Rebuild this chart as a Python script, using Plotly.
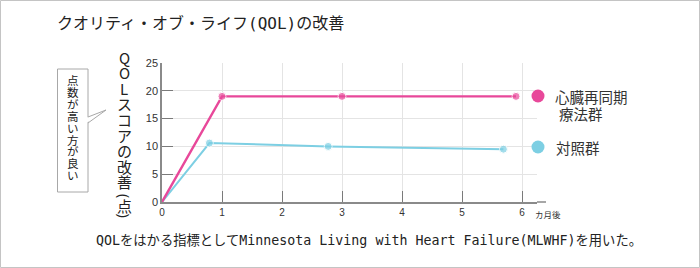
import plotly.graph_objects as go

# ---- data ----
title_text = "クオリティ・オブ・ライフ(QOL)の改善"
note_text = "QOLをはかる指標としてMinnesota Living with Heart Failure(MLWHF)を用いた。"
ytitle_chars = ["Q", "O", "L", "ス", "コ", "ア", "の", "改", "善"]
ytitle_unit = ["(", "点", ")"]
callout_chars = list("点数が高い方が良い")
series_names = ["心臓再同期", "療法群", "対照群"]

months_crt = [0, 1, 3, 5.9]
qol_crt = [0, 19.0, 19.0, 19.0]
months_ctrl = [0, 0.79, 2.77, 5.69]
qol_ctrl = [0, 10.6, 10.0, 9.5]

x_ticks = [0, 1, 2, 3, 4, 5, 6]
y_ticks = [0, 5, 10, 15, 20, 25]
x_unit = "カ月後"

MAGENTA = "#E8489A"
CYAN = "#7DCFE3"

W, H = 700, 268
L, R, T, B = 162, 163, 63, 66
PW, PH = W - L - R, H - T - B


def px(p):
    return (p - L) / PW


def py(p):
    return (H - B - p) / PH


CJK = "Noto Sans CJK JP"
MONO = "DejaVu Sans Mono, Noto Sans CJK JP"
NARROW = "Liberation Sans Narrow, Liberation Sans, Arial"

fig = go.Figure()


def msizes(n):
    return [0] + [8] * (n - 1)


fig.add_trace(go.Scatter(
    x=months_ctrl, y=qol_ctrl, mode="lines+markers",
    line=dict(color=CYAN, width=2),
    marker=dict(color=CYAN, size=msizes(len(qol_ctrl))),
    showlegend=False, hoverinfo="skip"))
fig.add_trace(go.Scatter(
    x=months_crt, y=qol_crt, mode="lines+markers",
    line=dict(color=MAGENTA, width=2.4),
    marker=dict(color=MAGENTA, size=msizes(len(qol_crt))),
    showlegend=False, hoverinfo="skip"))

fig.update_layout(
    width=W, height=H,
    margin=dict(l=L, r=R, t=T, b=B),
    paper_bgcolor="white", plot_bgcolor="white",
    xaxis=dict(range=[0, 6.25], tickvals=x_ticks, ticks="inside", ticklen=11,
               tickcolor="#7a7a7a", tickwidth=1.2,
               showgrid=True, gridcolor="#e4e4e4", gridwidth=1,
               showline=True, linecolor="#8a8a8a", linewidth=1.5,
               zeroline=False, fixedrange=True,
               tickfont=dict(family=NARROW, size=10, color="#333")),
    yaxis=dict(range=[0, 25], tickvals=y_ticks, ticks="inside", ticklen=11,
               tickcolor="#7a7a7a", tickwidth=1.2,
               showgrid=True, gridcolor="#e4e4e4", gridwidth=1,
               showline=True, linecolor="#8a8a8a", linewidth=1.5,
               zeroline=False, fixedrange=True,
               tickfont=dict(family=NARROW, size=11, color="#333")),
)

ann = []
# title
ann.append(dict(text=title_text, x=px(55), y=py(24), xref="paper", yref="paper",
                xanchor="left", yanchor="middle", showarrow=False,
                font=dict(family=MONO, size=16, color="#222")))
# note
ann.append(dict(text=note_text, x=px(94), y=py(240), xref="paper", yref="paper",
                xanchor="left", yanchor="middle", showarrow=False,
                font=dict(family=MONO, size=13.3, color="#222")))
# x unit
ann.append(dict(text=x_unit, x=px(533), y=py(214), xref="paper", yref="paper",
                xanchor="left", yanchor="middle", showarrow=False,
                font=dict(family=CJK, size=8.5, color="#333")))
# vertical y title
for i, ch in enumerate(ytitle_chars):
    ann.append(dict(text=ch, x=px(124), y=py(57 + i * 15.6), xref="paper", yref="paper",
                    xanchor="center", yanchor="middle", showarrow=False,
                    font=dict(family=CJK, size=15, color="#222")))
for ch, yy in zip(ytitle_unit, (195.5, 205.5, 215)):
    is_paren = ch in "()"
    ann.append(dict(text=ch, x=px(124.5), y=py(yy), xref="paper", yref="paper",
                    xanchor="center", yanchor="middle", showarrow=False,
                    textangle=90 if is_paren else 0,
                    font=dict(family="Noto Sans" if is_paren else CJK,
                              size=14 if is_paren else 15, color="#222")))
# callout text
for i, ch in enumerate(callout_chars):
    ann.append(dict(text=ch, x=px(72.5), y=py(80 + i * 11.9), xref="paper", yref="paper",
                    xanchor="center", yanchor="middle", showarrow=False,
                    font=dict(family=CJK, size=11.5, color="#222")))
# legend texts
ann.append(dict(text=series_names[0], x=px(553), y=py(96), xref="paper", yref="paper",
                xanchor="left", yanchor="middle", showarrow=False,
                font=dict(family=CJK, size=14.5, color="#333")))
ann.append(dict(text=series_names[1], x=px(557), y=py(113), xref="paper", yref="paper",
                xanchor="left", yanchor="middle", showarrow=False,
                font=dict(family=CJK, size=14.5, color="#333")))
ann.append(dict(text=series_names[2], x=px(554), y=py(147), xref="paper", yref="paper",
                xanchor="left", yanchor="middle", showarrow=False,
                font=dict(family=CJK, size=14.5, color="#333")))
fig.update_layout(annotations=ann)

shapes = []
# outer frame
shapes.append(dict(type="rect", xref="paper", yref="paper",
                   x0=px(0.5), x1=px(699.5), y0=py(267.5), y1=py(0.5),
                   line=dict(color="#c4c4c4", width=1), fillcolor="rgba(0,0,0,0)"))
# extended bottom axis line
shapes.append(dict(type="line", xref="paper", yref="paper",
                   x0=1.0, x1=px(546), y0=0, y1=0,
                   line=dict(color="#8a8a8a", width=1.5)))
# legend dots
for yy, col in ((96, MAGENTA), (147, CYAN)):
    shapes.append(dict(type="circle", xref="paper", yref="paper",
                       xsizemode="pixel", ysizemode="pixel",
                       xanchor=px(538), yanchor=py(yy),
                       x0=-6.5, x1=6.5, y0=-6.5, y1=6.5,
                       fillcolor=col, line=dict(width=0)))
# callout box
shapes.append(dict(type="rect", xref="paper", yref="paper",
                   x0=px(57.5), x1=px(88), y0=py(192), y1=py(69),
                   line=dict(color="#a8a8a8", width=1), fillcolor="white"))


def path(points, close=False):
    s = "M " + " L ".join(f"{px(a):.5f},{py(b):.5f}" for a, b in points)
    return s + (" Z" if close else "")


shapes.append(dict(type="path", xref="paper", yref="paper",
                   path=path([(87, 117.5), (106, 110), (87, 122.5)], True),
                   fillcolor="white", line=dict(width=0)))
shapes.append(dict(type="path", xref="paper", yref="paper",
                   path=path([(88, 117), (106, 110), (88, 123)]),
                   line=dict(color="#a8a8a8", width=1)))
fig.update_layout(shapes=shapes)

fig.write_html("out.html")
